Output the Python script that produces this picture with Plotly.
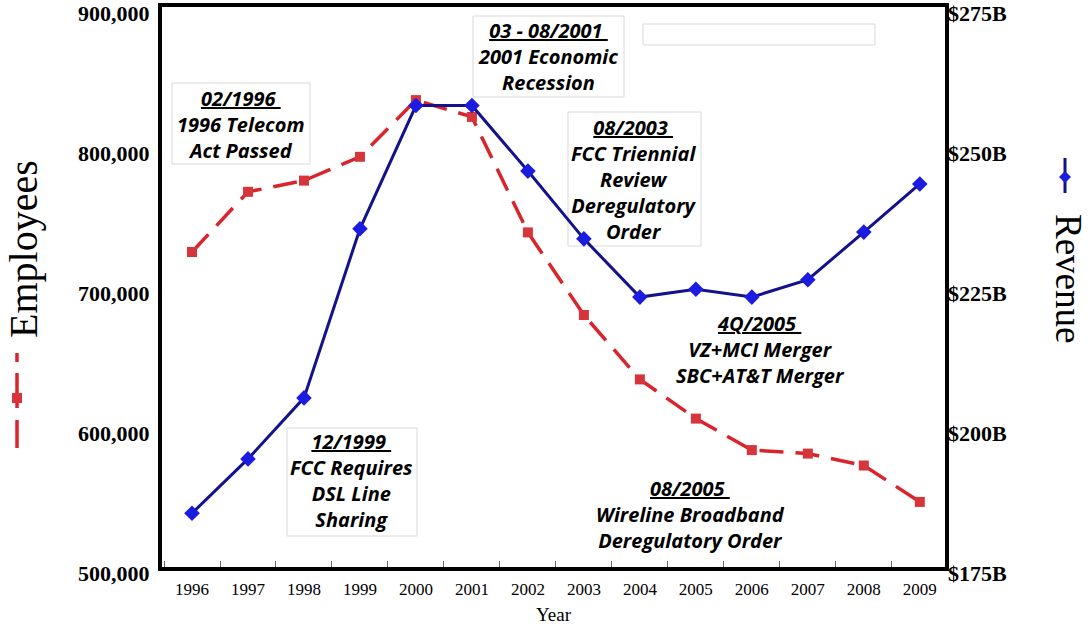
import plotly.graph_objects as go

# ---------------- data ----------------
years = ["1996", "1997", "1998", "1999", "2000", "2001", "2002",
         "2003", "2004", "2005", "2006", "2007", "2008", "2009"]
employees = [725000, 768000, 776000, 793000, 833500, 821500, 739000,
             680000, 634000, 606000, 583500, 581000, 572500, 546500]
revenue = [184.6, 194.3, 205.2, 235.4, 257.4, 257.4, 245.7,
           233.6, 223.2, 224.6, 223.2, 226.3, 234.8, 243.4]
emp_ticks = [500000, 600000, 700000, 800000, 900000]
rev_ticks = [175, 200, 225, 250, 275]
rev_ticktext = ["$175B", "$200B", "$225B", "$250B", "$275B"]

events = [
    ("02/1996", "1996 Telecom<br>Act Passed"),
    ("03 - 08/2001", "2001 Economic<br>Recession"),
    ("12/1999", "FCC Requires<br>DSL Line<br>Sharing"),
    ("08/2003", "FCC Triennial<br>Review<br>Deregulatory<br>Order"),
    ("4Q/2005", "VZ+MCI Merger<br>SBC+AT&T Merger"),
    ("08/2005", "Wireline Broadband<br>Deregulatory Order"),
]

# ---------------- layout geometry (pixels) ----------------
W, H = 1088, 628
L, R, T, B = 162, 945, 7, 567


def fx(px):
    return (px - L) / (R - L)


def fy(py):
    return (B - py) / (B - T)


RED_LINE = "#d9242b"
RED_MK = "#d5353b"
BLUE_LINE = "#12128c"
BLUE_MK = "#1c1ce0"
SERIF = "Liberation Serif"
ANN_FONT = dict(family="Open Sans", size=20, color="black", weight="bold", style="italic")

fig = go.Figure()

fig.add_trace(go.Scatter(
    x=years, y=employees, name="Employees", mode="lines+markers",
    line=dict(color=RED_LINE, width=3.5, dash="24px,12px"),
    marker=dict(symbol="square", size=10, color=RED_MK),
    yaxis="y",
))
fig.add_trace(go.Scatter(
    x=years, y=revenue, name="Revenue", mode="lines+markers",
    line=dict(color=BLUE_LINE, width=3),
    marker=dict(symbol="diamond", size=12, color=BLUE_MK),
    yaxis="y2",
))

shapes = []
# annotation boxes (drawn below the data lines)
boxes = [(172, 83, 310, 164), (473, 16, 624, 97), (643, 24, 875, 45),
         (287, 428, 417, 536), (568, 112, 701, 246)]
for x0, y0, x1, y1 in boxes:
    shapes.append(dict(type="rect", xref="paper", yref="paper",
                       x0=fx(x0), x1=fx(x1), y0=fy(y1), y1=fy(y0),
                       fillcolor="white", line=dict(color="#d9d9d9", width=1),
                       layer="below"))

# legend glyph under "Employees"
for y0, y1 in [(353, 362), (373, 408), (420, 448)]:
    shapes.append(dict(type="line", xref="paper", yref="paper",
                       x0=fx(17), x1=fx(17), y0=fy(y0), y1=fy(y1),
                       line=dict(color=RED_LINE, width=3.5), layer="above"))
shapes.append(dict(type="rect", xref="paper", yref="paper",
                   x0=fx(12), x1=fx(22), y0=fy(403), y1=fy(393),
                   fillcolor=RED_MK, line=dict(width=0), layer="above"))
# legend glyph above "Revenue"
shapes.append(dict(type="line", xref="paper", yref="paper",
                   x0=fx(1065), x1=fx(1065), y0=fy(158), y1=fy(193),
                   line=dict(color=BLUE_LINE, width=3), layer="above"))
shapes.append(dict(type="path", xref="paper", yref="paper",
                   path=(f"M {fx(1065)} {fy(171)} L {fx(1071)} {fy(177)} "
                         f"L {fx(1065)} {fy(183)} L {fx(1059)} {fy(177)} Z"),
                   fillcolor=BLUE_MK, line=dict(width=0), layer="above"))

annotations = []
ann_pos = [(241, 124), (548, 56), (351, 480), (634, 179), (760, 349), (690, 514)]
for (head, body), (px, py) in zip(events, ann_pos):
    annotations.append(dict(
        xref="paper", yref="paper", x=fx(px), y=fy(py),
        xanchor="center", yanchor="middle", showarrow=False,
        text=f"<u>{head}\u00a0</u><br>{body}", font=ANN_FONT, align="center",
    ))

# axis titles
annotations.append(dict(xref="paper", yref="paper", x=fx(23), y=fy(249),
                        xanchor="center", yanchor="middle", showarrow=False,
                        text="Employees", textangle=-90,
                        font=dict(family=SERIF, size=40, color="black")))
annotations.append(dict(xref="paper", yref="paper", x=fx(1068), y=fy(278),
                        xanchor="center", yanchor="middle", showarrow=False,
                        text="Revenue", textangle=90,
                        font=dict(family=SERIF, size=37, color="black")))

fig.update_layout(
    width=W, height=H,
    margin=dict(l=L, r=W - R, t=T, b=H - B, autoexpand=False),
    paper_bgcolor="white", plot_bgcolor="white",
    showlegend=False,
    xaxis=dict(
        type="category", range=[-0.536, 13.45], automargin=False,
        tickson="boundaries", ticks="inside", ticklen=6, tickwidth=1,
        tickcolor="#666666",
        showline=True, linecolor="black", linewidth=4, mirror=True,
        showgrid=False, zeroline=False,
        tickfont=dict(family=SERIF, size=17, color="black"),
        ticklabelstandoff=4,
        title=dict(text="Year", font=dict(family=SERIF, size=19, color="black"),
                   standoff=10),
    ),
    yaxis=dict(
        range=[500000, 900000], tickvals=emp_ticks, tickformat=",",
        automargin=False, ticklabeloverflow="allow",
        ticks="", showline=True, linecolor="black", linewidth=4, mirror=True,
        showgrid=False, zeroline=False,
        tickfont=dict(family=SERIF, size=22, color="black", weight="bold"),
        ticklabelshift=6, ticklabelstandoff=4,
    ),
    yaxis2=dict(
        range=[175, 275], tickvals=rev_ticks, ticktext=rev_ticktext,
        automargin=False, ticklabeloverflow="allow",
        overlaying="y", side="right", ticks="", showline=False,
        showgrid=False, zeroline=False,
        tickfont=dict(family=SERIF, size=22, color="black", weight="bold"),
        ticklabelshift=6, ticklabelstandoff=2,
    ),
    shapes=shapes,
    annotations=annotations,
)

fig.write_html("out.html", config={"displayModeBar": False},
               post_script="document.body.style.margin='0';document.body.style.padding='0';")
